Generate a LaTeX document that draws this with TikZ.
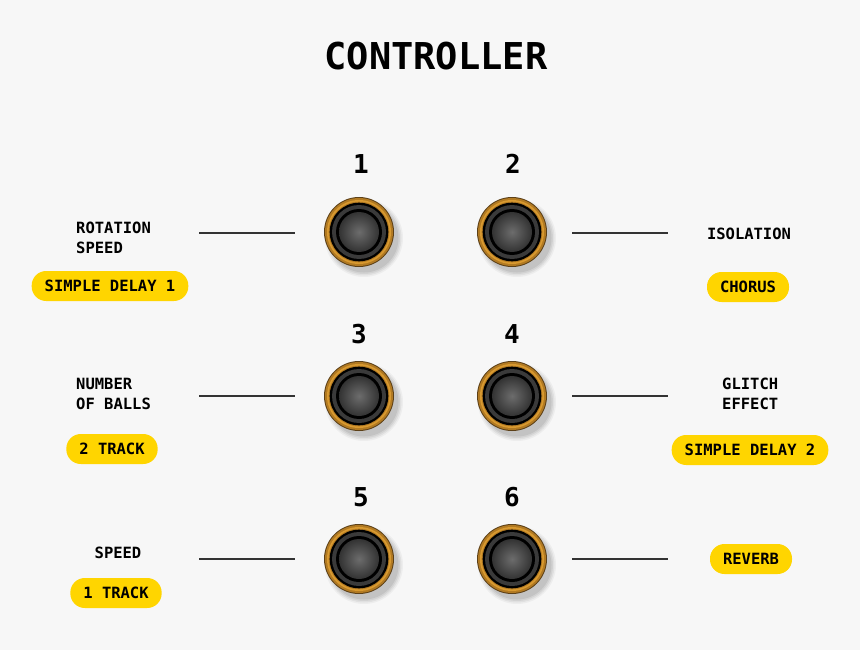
\documentclass[tikz,border=0pt]{standalone}
\usepackage{fontspec}
\newfontfamily\pix{DejaVu Sans Mono}
\definecolor{bg}{HTML}{F7F7F7}
\definecolor{pillY}{HTML}{FFD500}
\definecolor{goldA}{HTML}{5C4018}
\definecolor{goldB}{HTML}{B27A22}
\definecolor{goldC}{HTML}{D99A30}
\definecolor{knobG}{HTML}{3A3A3A}
\definecolor{lineC}{HTML}{333333}
\tikzset{
  title/.style={font=\pix\bfseries\fontsize{37}{40}\selectfont, inner sep=0pt},
  num/.style={font=\pix\bfseries\fontsize{26}{28}\selectfont, inner sep=0pt},
  lbl/.style={font=\pix\bfseries\fontsize{15.5}{20.5}\selectfont, inner sep=0pt, align=left},
  pill/.style={font=\pix\bfseries\fontsize{15.5}{18}\selectfont, fill=pillY, rounded corners=14.5pt,
     minimum height=30pt, inner xsep=13pt, inner ysep=0pt},
  knobnode/.style={circle, minimum size=70pt, inner sep=0pt},
  conn/.style={lineC, line width=1.2pt},
}
\newcommand{\mkknob}[3]{%
  \foreach \r/\o in {39/0.04,37.5/0.05,36/0.06,34.5/0.07}
    \fill[black, opacity=\o] (#2+5,#3+6) circle (\r pt);
  \node[knobnode, fill=goldA] (#1) at (#2,#3) {};
  \fill[goldB] (#1.center) circle (34pt);
  \fill[goldC] (#1.center) circle (32pt);
  \fill[goldB] (#1.center) circle (30.3pt);
  \fill[black] (#1.center) circle (29.3pt);
  \fill[knobG] (#1.center) circle (27pt);
  \fill[black] (#1.center) circle (23pt);
  \shade[inner color=gray!85!black, outer color=black!80] (#1.center) circle (20pt);
}
\begin{document}
\begin{tikzpicture}[x=1pt,y=-1pt]
\fill[bg] (0,0) rectangle (860,650);
\useasboundingbox (0,0) rectangle (860,650);

\node[title] (t) at (436,56) {CONTROLLER};

\mkknob{k1}{359}{232}
\mkknob{k2}{512}{232}
\mkknob{k3}{359}{396}
\mkknob{k4}{512}{396}
\mkknob{k5}{359}{559}
\mkknob{k6}{512}{559}

\node[num] (n1) at (361,164) {1};
\node[num] (n2) at (513,164) {2};
\node[num] (n3) at (359,334) {3};
\node[num] (n4) at (512,334) {4};
\node[num] (n5) at (361,497) {5};
\node[num] (n6) at (512,497) {6};

% connector ends
\coordinate (l1a) at (199,233); \coordinate (l1b) at (295,233);
\coordinate (r1a) at (572,233); \coordinate (r1b) at (668,233);
\coordinate (l2a) at (199,396); \coordinate (l2b) at (295,396);
\coordinate (r2a) at (572,396); \coordinate (r2b) at (668,396);
\coordinate (l3a) at (199,559); \coordinate (l3b) at (295,559);
\coordinate (r3a) at (572,559); \coordinate (r3b) at (668,559);
\draw[conn] (l1a) -- (l1b);
\draw[conn] (r1a) -- (r1b);
\draw[conn] (l2a) -- (l2b);
\draw[conn] (r2a) -- (r2b);
\draw[conn] (l3a) -- (l3b);
\draw[conn] (r3a) -- (r3b);

% labels
\node[lbl, anchor=west] (a1) at (76,238) {ROTATION\\SPEED};
\node[pill] (p1) at (110,286) {SIMPLE DELAY 1};
\node[lbl] (a2) at (749,234) {ISOLATION};
\node[pill] (p2) at (748,287) {CHORUS};
\node[lbl, anchor=west] (a3) at (76,394) {NUMBER\\OF BALLS};
\node[pill] (p3) at (112,449) {2 TRACK};
\node[lbl, anchor=west] (a4) at (722,394) {GLITCH\\EFFECT};
\node[pill] (p4) at (750,450) {SIMPLE DELAY 2};
\node[lbl] (a5) at (118,553) {SPEED};
\node[pill] (p5) at (116,593) {1 TRACK};
\node[pill] (p6) at (751,559) {REVERB};
\end{tikzpicture}
\end{document}
